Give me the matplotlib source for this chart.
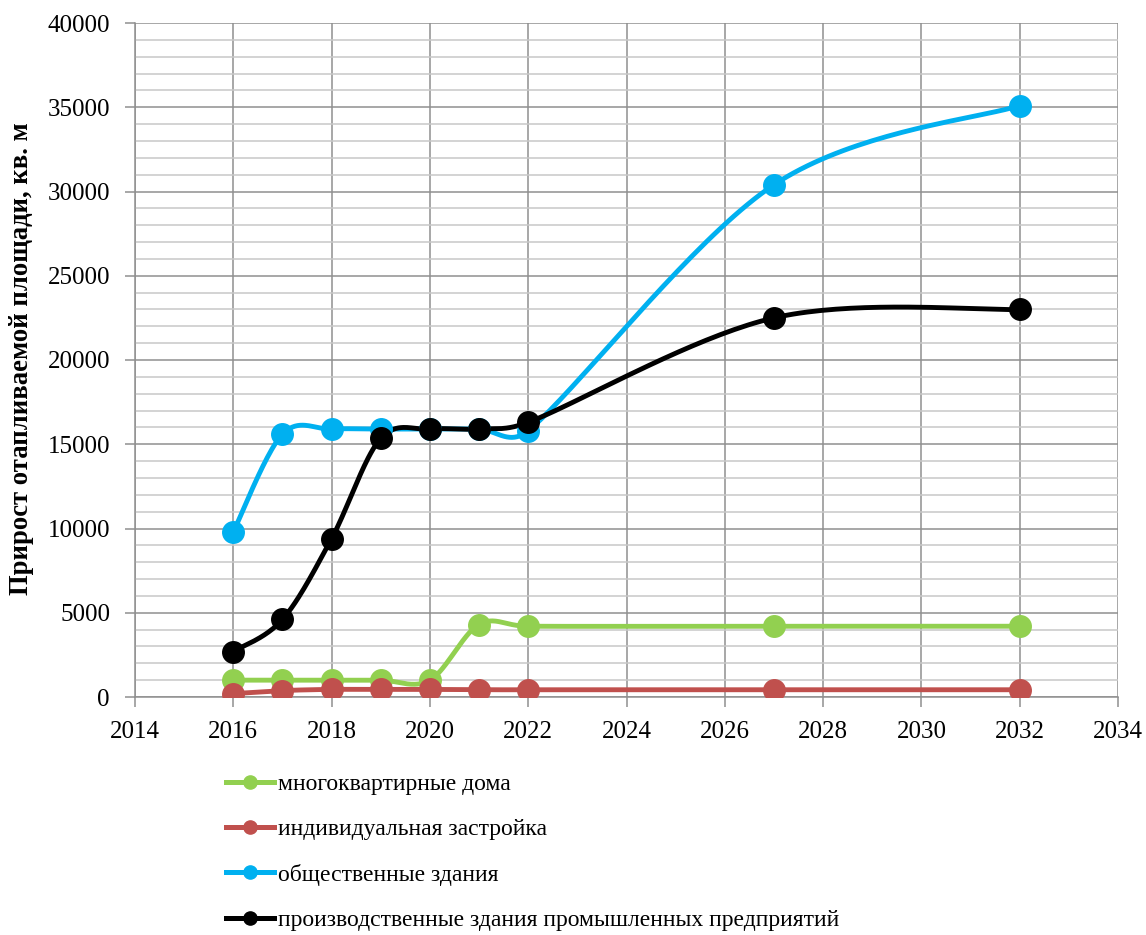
import numpy as np
import matplotlib
matplotlib.use("Agg")
import matplotlib.pyplot as plt
from matplotlib.ticker import MultipleLocator

years = [2016, 2017, 2018, 2019, 2020, 2021, 2022, 2027, 2032]
apartments = [1000, 1000, 1000, 1000, 1000, 4300, 4200, 4200, 4200]
individual = [200, 380, 450, 450, 450, 430, 430, 430, 430]
public = [9800, 15600, 15900, 15900, 15900, 15900, 15800, 30400, 35100]
industrial = [2700, 4600, 9400, 15350, 15900, 15900, 16300, 22500, 23000]

labels = ["многоквартирные дома", "индивидуальная застройка",
          "общественные здания", "производственные здания промышленных предприятий"]
colors = ["#92D050", "#C0504D", "#00B0F0", "#000000"]
series = [apartments, individual, public, industrial]

plt.rcParams['font.family'] = ['Liberation Serif', 'DejaVu Serif']
fig = plt.figure(figsize=(11.46, 9.35), dpi=100)
ax = fig.add_axes([135 / 1146, 1 - 697 / 935, (1118 - 135) / 1146, (697 - 23) / 935])
ax.set_xlim(2014, 2034)
ax.set_ylim(0, 40000)


def smooth(xs, ys, n=40):
    # Excel-like smoothed line: cubic Bezier segments whose control-point
    # tangents are limited to half the segment length (in display space)
    pts = ax.transData.transform(np.column_stack([xs, ys]).astype(float))
    p = np.vstack([pts[0], pts, pts[-1]])
    t = np.linspace(0, 1, n)[:, None]
    out = []
    for i in range(1, len(p) - 2):
        p0, p1, p2, p3 = p[i - 1], p[i], p[i + 1], p[i + 2]
        d12 = np.linalg.norm(p2 - p1)
        d02 = np.linalg.norm(p2 - p0)
        d13 = np.linalg.norm(p3 - p1)
        f1 = min(1 / 6, d12 / 2 / d02) if d02 > 0 else 0
        f2 = min(1 / 6, d12 / 2 / d13) if d13 > 0 else 0
        c1 = p1 + (p2 - p0) * f1
        c2 = p2 - (p3 - p1) * f2
        seg = (1 - t) ** 3 * p1 + 3 * (1 - t) ** 2 * t * c1 + 3 * (1 - t) * t ** 2 * c2 + t ** 3 * p2
        out.append(seg if i == 1 else seg[1:])
    s = ax.transData.inverted().transform(np.vstack(out))
    return s[:, 0], s[:, 1]


handles = []
for ys, c, lab in zip(series, colors, labels):
    sx, sy = smooth(years, ys)
    ax.plot(sx, sy, color=c, lw=3.5, solid_capstyle='round', zorder=3)
    ax.plot(years, ys, 'o', color=c, ms=15.5, zorder=4)
    h, = ax.plot([], [], '-o', color=c, lw=3.6, ms=9.5, label=lab)
    handles.append(h)

ax.xaxis.set_major_locator(MultipleLocator(2))
ax.yaxis.set_major_locator(MultipleLocator(5000))
ax.yaxis.set_minor_locator(MultipleLocator(1000))
ax.grid(True, which='major', color='#8f8f8f', lw=1.1, zorder=0)
ax.grid(True, which='minor', axis='y', color='#c8c8c8', lw=1.1, zorder=0)
ax.tick_params(which='major', direction='out', length=7, width=1.1, color='#8f8f8f',
               labelsize=18)
ax.tick_params(axis='y', pad=11)
ax.tick_params(axis='x', pad=10)
ax.tick_params(which='minor', length=0)
for side in ['top', 'right']:
    ax.spines[side].set_visible(False)
for side in ['left', 'bottom']:
    ax.spines[side].set_color('#8f8f8f')
    ax.spines[side].set_linewidth(1.1)
ax.set_axisbelow(True)

fig.text(22 / 1146, 1 - 359 / 935, "Прирост отапливаемой площади, кв. м",
         fontsize=19.2, fontweight='bold', rotation=90, ha='center', va='center')

fig.legend(handles=handles, loc='upper left', bbox_to_anchor=(217 / 1146, 1 - 764 / 935),
           frameon=False, fontsize=17, handlelength=2.0, handletextpad=0.2,
           labelspacing=1.0, borderaxespad=0)

fig.savefig("out.png", dpi=100)
